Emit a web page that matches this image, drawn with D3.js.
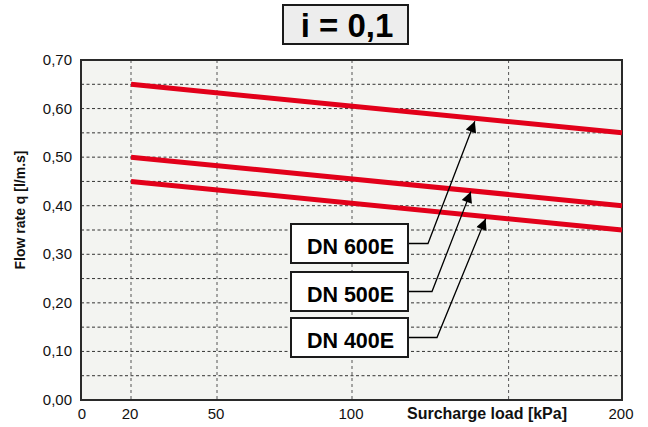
<!DOCTYPE html>
<html><head><meta charset="utf-8">
<script src="https://cdn.jsdelivr.net/npm/d3@7"></script>
<style>body{margin:0;background:#fff}svg{display:block}</style>
</head><body>
<script>
const seriesNames = ["DN 600E", "DN 500E", "DN 400E"];
const loadKPa = [20, 200];
const flowDN600 = [0.65, 0.55];
const flowDN500 = [0.50, 0.40];
const flowDN400 = [0.45, 0.35];
const arrowTipLoad = [145.5, 144, 149.5];
const arrowTipFlow = [0.574, 0.429, 0.373];
const xTickValues = [0, 20, 50, 100, 200];
const xGridValues = [20, 50, 100, 158];
const yTickValues = [0, 0.1, 0.2, 0.3, 0.4, 0.5, 0.6, 0.7];
const yGridValues = d3.range(1, 14).map(i => +(i * 0.05).toFixed(2));
const title = "i = 0,1";
const xTitle = "Surcharge load [kPa]";
const yTitle = "Flow rate q  [l/m.s]";

const W = 648, H = 427;
const svg = d3.select("body").append("svg").attr("width", W).attr("height", H);
const font = "'Liberation Sans', Arial, sans-serif";

const x = d3.scaleLinear().domain([0, 20, 50, 100, 200]).range([81, 131, 217, 352, 622]);
const y = d3.scaleLinear().domain([0, 0.7]).range([400, 60]);

// plot background
svg.append("rect").attr("x", x(0)).attr("y", y(0.7)).attr("width", x(200) - x(0)).attr("height", y(0) - y(0.7))
  .attr("fill", "#f3f4f1");

// grid
svg.append("g").selectAll("line").data(yGridValues).join("line")
  .attr("x1", x(0)).attr("x2", x(200)).attr("y1", d => y(d)).attr("y2", d => y(d))
  .attr("stroke", "#333").attr("stroke-width", 1).attr("stroke-dasharray", "3,2.5");
svg.append("g").selectAll("line").data(xGridValues).join("line")
  .attr("x1", d => x(d)).attr("x2", d => x(d)).attr("y1", y(0.7)).attr("y2", y(0))
  .attr("stroke", "#555").attr("stroke-width", 1).attr("stroke-dasharray", "3,3");

// frame
svg.append("rect").attr("x", x(0)).attr("y", y(0.7)).attr("width", x(200) - x(0)).attr("height", y(0) - y(0.7))
  .attr("fill", "none").attr("stroke", "#2a2a2a").attr("stroke-width", 2);

// axes labels
svg.append("g").selectAll("text").data(yTickValues).join("text")
  .attr("x", 72).attr("y", d => y(d) + 5).attr("text-anchor", "end")
  .attr("font-family", font).attr("font-size", 15).attr("fill", "#111")
  .text(d => d.toFixed(2).replace(".", ","));
svg.append("g").selectAll("text").data(xTickValues).join("text")
  .attr("x", d => x(d) + (d === 0 ? 1 : -1)).attr("y", 419).attr("text-anchor", "middle")
  .attr("font-family", font).attr("font-size", 15).attr("fill", "#111")
  .text(d => d);
svg.append("text").attr("x", 487).attr("y", 419).attr("text-anchor", "middle")
  .attr("font-family", font).attr("font-size", 16).attr("font-weight", "bold").attr("fill", "#111").text(xTitle);
svg.append("text").attr("transform", "translate(25,210) rotate(-90)").attr("text-anchor", "middle")
  .attr("font-family", font).attr("font-size", 14).attr("font-weight", "bold").attr("fill", "#111").text(yTitle);

// series lines
const series = [flowDN600, flowDN500, flowDN400];
const line = d3.line().x(d => x(d[0])).y(d => y(d[1]));
svg.append("g").selectAll("path").data(series).join("path")
  .attr("d", s => line(loadKPa.map((l, i) => [l, s[i]])))
  .attr("fill", "none").attr("stroke", "#e2001a").attr("stroke-width", 5);

// arrowhead marker
svg.append("defs").append("marker").attr("id", "ah").attr("viewBox", "0 0 10 10")
  .attr("refX", 10).attr("refY", 5).attr("markerWidth", 14).attr("markerHeight", 11)
  .attr("markerUnits", "userSpaceOnUse").attr("orient", "auto")
  .append("path").attr("d", "M0,0 L10,5 L0,10 Z").attr("fill", "#000");

// label boxes & arrows
const boxes = [
  {x: 291, y: 224, elbowX: 428},
  {x: 291, y: 272, elbowX: 432},
  {x: 291, y: 318, elbowX: 437}
];
const bw = 117, bh = 39;
seriesNames.forEach((name, i) => {
  const b = boxes[i];
  const cy = b.y + bh / 2;
  svg.append("path")
    .attr("d", `M${b.x + bw},${cy} L${b.elbowX},${cy} L${x(arrowTipLoad[i])},${y(arrowTipFlow[i])}`)
    .attr("fill", "none").attr("stroke", "#000").attr("stroke-width", 1.3)
    .attr("marker-end", "url(#ah)");
  svg.append("rect").attr("x", b.x).attr("y", b.y).attr("width", bw).attr("height", bh)
    .attr("fill", "#fff").attr("stroke", "#1a1a1a").attr("stroke-width", 2);
  svg.append("text").attr("x", b.x + bw / 2 + 1).attr("y", b.y + 30).attr("text-anchor", "middle")
    .attr("font-family", font).attr("font-size", 21.5).attr("font-weight", "bold").attr("fill", "#000")
    .text(name);
});

// title box
svg.append("rect").attr("x", 283).attr("y", 5).attr("width", 125).attr("height", 39)
  .attr("fill", "#ededed").attr("stroke", "#1a1a1a").attr("stroke-width", 2);
svg.append("text").attr("x", 347).attr("y", 37).attr("text-anchor", "middle")
  .attr("font-family", font).attr("font-size", 33).attr("font-weight", "bold").attr("fill", "#000")
  .text(title);
</script>
</body></html>
